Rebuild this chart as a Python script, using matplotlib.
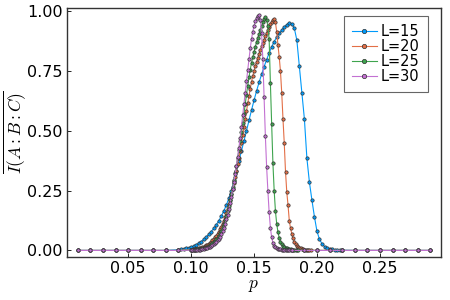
import numpy as np
import matplotlib
matplotlib.use("Agg")
import matplotlib.pyplot as plt

plt.rcParams['mathtext.fontset'] = 'cm'

# coarse grid, flat part of every curve
p_coarse = [round(0.01 * k, 2) for k in range(1, 30)]
I_flat = 0.0

labels = ['L=15', 'L=20', 'L=25', 'L=30']
colors = ['#009AFA', '#E36F47', '#3EA44E', '#C371D2']

# fine scan ranges (start, stop)
fine_range = {
    'L=15': (0.090, 0.220),
    'L=20': (0.100, 0.195),
    'L=25': (0.100, 0.185),
    'L=30': (0.100, 0.180),
}

I_15 = [0.003, 0.005, 0.006, 0.008, 0.010, 0.013, 0.018, 0.024, 0.030, 0.037,
        0.046, 0.056, 0.067, 0.079, 0.092, 0.107, 0.124, 0.143, 0.165, 0.190,
        0.218, 0.250, 0.290, 0.332, 0.374, 0.416, 0.458, 0.500, 0.544, 0.587,
        0.628, 0.667, 0.703, 0.737, 0.769, 0.798, 0.826, 0.852, 0.874, 0.892,
        0.908, 0.922, 0.935, 0.945, 0.953, 0.948, 0.930, 0.880, 0.770, 0.660,
        0.550, 0.385, 0.285, 0.210, 0.140, 0.080, 0.046, 0.028, 0.016, 0.010,
        0.007, 0.005, 0.003, 0.002, 0.001, 0.001]

I_20 = [0.003, 0.003, 0.004, 0.005, 0.006, 0.007, 0.008, 0.010, 0.011, 0.013,
        0.015, 0.018, 0.021, 0.024, 0.028, 0.032, 0.037, 0.042, 0.048, 0.055,
        0.062, 0.070, 0.079, 0.089, 0.100, 0.112, 0.125, 0.140, 0.156, 0.174,
        0.193, 0.213, 0.235, 0.258, 0.282, 0.307, 0.333, 0.360, 0.388, 0.418,
        0.450, 0.482, 0.515, 0.548, 0.582, 0.615, 0.647, 0.677, 0.705, 0.730,
        0.752, 0.772, 0.790, 0.807, 0.823, 0.839, 0.854, 0.868, 0.882, 0.896,
        0.910, 0.922, 0.934, 0.946, 0.957, 0.966, 0.970, 0.955, 0.915, 0.860,
        0.810, 0.750, 0.660, 0.550, 0.450, 0.330, 0.245, 0.190, 0.125, 0.092,
        0.070, 0.050, 0.036, 0.026, 0.019, 0.014, 0.010, 0.008, 0.006, 0.004,
        0.003, 0.002, 0.002, 0.001, 0.001, 0.001]

I_25 = [0.002, 0.002, 0.003, 0.003, 0.004, 0.004, 0.005, 0.006, 0.007, 0.008,
        0.010, 0.012, 0.014, 0.016, 0.019, 0.022, 0.026, 0.030, 0.035, 0.041,
        0.047, 0.054, 0.062, 0.072, 0.083, 0.096, 0.110, 0.126, 0.144, 0.164,
        0.186, 0.210, 0.236, 0.264, 0.293, 0.323, 0.355, 0.388, 0.422, 0.458,
        0.495, 0.533, 0.572, 0.612, 0.652, 0.690, 0.725, 0.757, 0.785, 0.808,
        0.830, 0.852, 0.872, 0.890, 0.906, 0.922, 0.940, 0.956, 0.968, 0.976,
        0.966, 0.938, 0.885, 0.700, 0.530, 0.365, 0.250, 0.165, 0.112, 0.077,
        0.052, 0.037, 0.027, 0.020, 0.015, 0.011, 0.009, 0.007, 0.005, 0.004,
        0.003, 0.002, 0.002, 0.001, 0.001, 0.001]

I_30 = [0.001, 0.001, 0.001, 0.002, 0.002, 0.002, 0.003, 0.003, 0.004, 0.005,
        0.006, 0.008, 0.010, 0.012, 0.014, 0.016, 0.019, 0.022, 0.026, 0.031,
        0.036, 0.042, 0.049, 0.058, 0.068, 0.080, 0.095, 0.112, 0.130, 0.150,
        0.172, 0.197, 0.225, 0.255, 0.287, 0.320, 0.355, 0.392, 0.430, 0.472,
        0.518, 0.565, 0.612, 0.660, 0.708, 0.755, 0.800, 0.845, 0.885, 0.915,
        0.940, 0.958, 0.972, 0.982, 0.985, 0.965, 0.910, 0.800, 0.640, 0.480,
        0.350, 0.250, 0.160, 0.095, 0.055, 0.032, 0.020, 0.013, 0.009, 0.007,
        0.005, 0.004, 0.003, 0.003, 0.002, 0.002, 0.001, 0.001, 0.001, 0.001,
        0.000]

fine_vals = {'L=15': I_15, 'L=20': I_20, 'L=25': I_25, 'L=30': I_30}

fig = plt.figure(figsize=(4.5, 3), dpi=100)
ax = fig.add_axes([0.149, 0.143, 0.831, 0.830])

for lab, col in zip(labels, colors):
    a, b = fine_range[lab]
    vals = fine_vals[lab]
    pf = np.linspace(a, b, len(vals))
    pc = [p for p in p_coarse if p < a - 1e-9 or p > b + 1e-9]
    p = np.concatenate([pc, pf])
    v = np.concatenate([[I_flat] * len(pc), vals])
    order = np.argsort(p)
    ax.plot(p[order], v[order], color=col, lw=0.8, marker='o', ms=2.4,
            mfc=col, mec='#333333', mew=0.5, label=lab)

ax.set_xlim(0.0015, 0.2985)
ax.set_ylim(-0.028, 1.014)
ax.set_xticks([0.05, 0.10, 0.15, 0.20, 0.25])
ax.set_yticks([0.0, 0.25, 0.5, 0.75, 1.0])
ax.set_xticklabels(['0.05', '0.10', '0.15', '0.20', '0.25'])
ax.set_yticklabels(['0.00', '0.25', '0.50', '0.75', '1.00'])
ax.tick_params(direction='in', length=3, width=0.6, labelsize=11.5,
               top=False, right=False, pad=3)
for s in ax.spines.values():
    s.set_color('#333333')
    s.set_linewidth(1.0)

ax.set_xlabel(r'$p$', fontsize=12.5, labelpad=0)
ax.set_ylabel(r'$\overline{I(A:B:C)}$', fontsize=12.5)
ax.yaxis.set_label_coords(-0.105, 0.5)

leg = ax.legend(loc='upper right', bbox_to_anchor=(0.965, 0.969),
                borderaxespad=0, fontsize=10.5, handlelength=1.7,
                handletextpad=0.3, labelspacing=0.0, borderpad=0.55,
                fancybox=False, framealpha=1, markerscale=1.3)
leg.get_frame().set_edgecolor('#666666')
leg.get_frame().set_linewidth(0.8)

fig.savefig('out.png', dpi=100)
